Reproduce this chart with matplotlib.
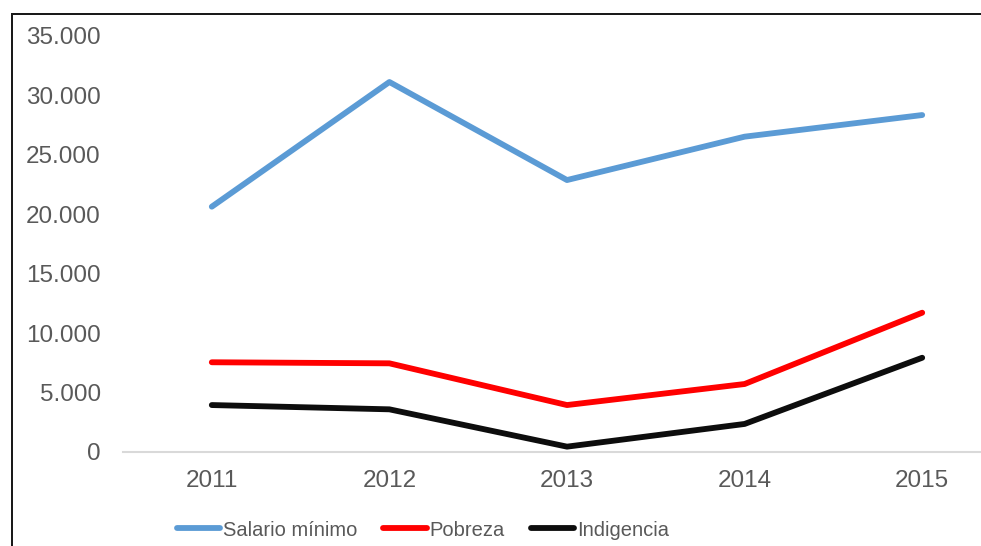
import matplotlib
matplotlib.use("Agg")
import matplotlib.pyplot as plt
from matplotlib.patches import Rectangle
from matplotlib.ticker import FuncFormatter

years = ["2011", "2012", "2013", "2014", "2015"]
salario = [20640, 31130, 22880, 26530, 28350]
pobreza = [7550, 7460, 3950, 5720, 11720]
indigencia = [3950, 3590, 450, 2360, 7930]

W, H = 981, 546
fig = plt.figure(figsize=(W / 100, H / 100), dpi=100)
plt.rcParams["font.family"] = ["Liberation Sans", "DejaVu Sans"]

# axes: x from 123px to ~1011px (cropped on the right), y 0 at 452px, 35000 at 36px
ax = fig.add_axes([123 / W, (H - 452) / H, (1011 - 123) / W, 416 / H])

x = range(len(years))
ax.plot(x, salario, color="#5B9BD5", lw=4.2, solid_capstyle="round", label="Salario mínimo")
ax.plot(x, pobreza, color="#FF0000", lw=4.2, solid_capstyle="round", label="Pobreza")
ax.plot(x, indigencia, color="#0D0D0D", lw=4.2, solid_capstyle="round", label="Indigencia")

ax.set_xlim(-0.5, len(years) - 0.5)
ax.set_ylim(0, 35000)
ax.set_yticks(range(0, 35001, 5000))
ax.yaxis.set_major_formatter(FuncFormatter(lambda v, p: f"{int(v):,}".replace(",", ".")))
ax.set_xticks(list(x))
ax.set_xticklabels(years)

for s in ["top", "right", "left"]:
    ax.spines[s].set_visible(False)
ax.spines["bottom"].set_color("#D9D9D9")
ax.spines["bottom"].set_linewidth(1.5)
ax.tick_params(axis="both", length=0, labelsize=17.5, labelcolor="#595959")
ax.tick_params(axis="y", pad=16)
ax.tick_params(axis="x", pad=13)

leg = fig.legend(
    loc="center",
    bbox_to_anchor=(423 / W, 1 - 530 / H),
    ncol=3,
    frameon=False,
    fontsize=14.5,
    handlelength=2.15,
    handletextpad=0.15,
    columnspacing=1.3,
    borderaxespad=0,
)
for t in leg.get_texts():
    t.set_color("#595959")

# outer chart border (only left and top visible in the crop)
fig.patches.append(Rectangle((11 / W, -0.1), 2.2 / W, 1.1 - 14 / H, transform=fig.transFigure,
                             facecolor="#1A1A1A", edgecolor="none"))
fig.patches.append(Rectangle((11 / W, 1 - 15 / H), 1.1, 2.2 / H, transform=fig.transFigure,
                             facecolor="#1A1A1A", edgecolor="none"))

fig.savefig("out.png", dpi=100)
